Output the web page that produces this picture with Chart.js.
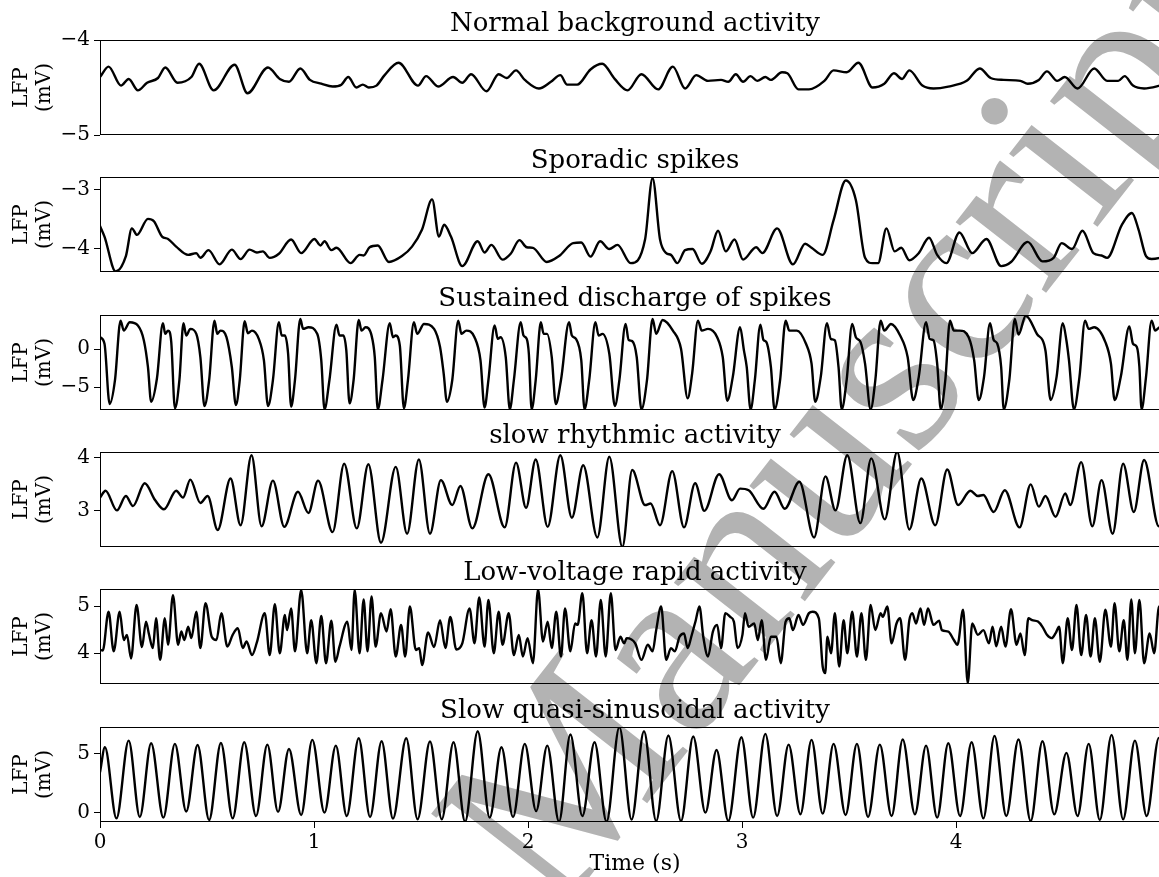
<!DOCTYPE html>
<html>
<head>
<meta charset="utf-8">
<script src="https://cdn.jsdelivr.net/npm/chart.js@4.4.1/dist/chart.umd.min.js"></script>
<style>
  body { margin: 0; width: 1159px; height: 877px; overflow: hidden; background: #fff; position: relative; }
  #mark { position: absolute; left: 840px; top: 420px; transform: translate(-50%, -50%) rotate(-52deg);
          font: 250px 'Liberation Serif', serif; color: #b3b3b3; white-space: nowrap; line-height: 1; }
  canvas { position: absolute; left: 0; }
</style>
</head>
<body>
<div id="mark">Manuscript</div>
<script>
// LFP traces, [time (s), value (mV)]
const normalTrace = [[0,-4.39],[0.04,-4.28],[0.098,-4.48],[0.134,-4.41],[0.177,-4.53],[0.22,-4.45],[0.271,-4.40],[0.305,-4.29],[0.362,-4.45],[0.427,-4.39],[0.463,-4.25],[0.531,-4.53],[0.629,-4.26],[0.689,-4.56],[0.785,-4.29],[0.84,-4.41],[0.883,-4.44],[0.936,-4.30],[0.981,-4.42],[1.034,-4.46],[1.087,-4.49],[1.128,-4.47],[1.16,-4.39],[1.198,-4.50],[1.228,-4.47],[1.256,-4.50],[1.292,-4.48],[1.33,-4.37],[1.395,-4.24],[1.486,-4.48],[1.524,-4.38],[1.58,-4.49],[1.65,-4.39],[1.693,-4.45],[1.734,-4.36],[1.806,-4.54],[1.863,-4.36],[1.9,-4.40],[1.944,-4.32],[1.985,-4.42],[2.051,-4.51],[2.107,-4.44],[2.151,-4.37],[2.183,-4.47],[2.23,-4.47],[2.292,-4.31],[2.347,-4.25],[2.405,-4.41],[2.465,-4.53],[2.53,-4.36],[2.608,-4.52],[2.677,-4.28],[2.734,-4.51],[2.786,-4.37],[2.841,-4.43],[2.902,-4.42],[2.936,-4.44],[2.971,-4.36],[3.005,-4.44],[3.04,-4.38],[3.071,-4.43],[3.109,-4.39],[3.135,-4.42],[3.187,-4.34],[3.212,-4.35],[3.264,-4.52],[3.313,-4.52],[3.385,-4.43],[3.428,-4.32],[3.489,-4.34],[3.544,-4.24],[3.61,-4.50],[3.665,-4.46],[3.71,-4.35],[3.748,-4.41],[3.782,-4.32],[3.843,-4.48],[3.895,-4.51],[3.964,-4.49],[4.05,-4.43],[4.111,-4.30],[4.162,-4.40],[4.223,-4.42],[4.301,-4.43],[4.335,-4.46],[4.387,-4.42],[4.425,-4.33],[4.473,-4.43],[4.508,-4.39],[4.568,-4.51],[4.646,-4.30],[4.706,-4.43],[4.758,-4.43],[4.788,-4.38],[4.827,-4.48],[4.879,-4.51],[4.953,-4.48],[5.0,-4.45]];

const spikeTrace = [[0,-3.61],[0.021,-3.79],[0.073,-4.38],[0.121,-4.12],[0.149,-3.65],[0.173,-3.76],[0.224,-3.49],[0.252,-3.53],[0.29,-3.79],[0.318,-3.83],[0.356,-3.96],[0.412,-4.10],[0.45,-4.07],[0.469,-4.15],[0.507,-4.02],[0.559,-4.26],[0.616,-4.01],[0.657,-4.17],[0.699,-4.01],[0.733,-4.06],[0.761,-4.04],[0.793,-4.15],[0.836,-4.08],[0.893,-3.84],[0.94,-4.07],[1.002,-3.83],[1.03,-3.94],[1.049,-3.87],[1.081,-4.02],[1.105,-3.98],[1.171,-4.24],[1.213,-4.10],[1.232,-4.11],[1.26,-3.97],[1.298,-3.94],[1.35,-4.22],[1.411,-4.12],[1.458,-3.96],[1.505,-3.67],[1.552,-3.16],[1.584,-3.79],[1.608,-3.59],[1.64,-3.79],[1.693,-4.29],[1.765,-3.87],[1.797,-4.06],[1.829,-3.93],[1.881,-4.18],[1.919,-4.08],[1.96,-3.85],[1.994,-3.97],[2.023,-3.98],[2.088,-4.22],[2.145,-4.12],[2.211,-3.90],[2.249,-3.89],[2.292,-4.13],[2.337,-3.87],[2.38,-4.00],[2.418,-3.93],[2.48,-4.24],[2.547,-3.84],[2.582,-2.80],[2.617,-3.84],[2.646,-4.07],[2.668,-4.10],[2.698,-4.24],[2.734,-4.02],[2.769,-4.00],[2.812,-4.25],[2.853,-4.04],[2.888,-3.69],[2.924,-4.04],[2.965,-3.84],[3.005,-4.18],[3.066,-3.97],[3.095,-4.07],[3.164,-3.65],[3.238,-4.26],[3.295,-3.91],[3.325,-3.98],[3.377,-4.10],[3.428,-3.51],[3.485,-2.84],[3.532,-3.17],[3.575,-4.15],[3.61,-4.24],[3.636,-4.24],[3.675,-3.65],[3.713,-4.04],[3.744,-3.98],[3.782,-4.19],[3.826,-4.07],[3.874,-3.81],[3.912,-4.10],[3.955,-4.24],[4.016,-3.72],[4.076,-4.07],[4.142,-3.83],[4.211,-4.29],[4.257,-4.22],[4.335,-3.88],[4.404,-4.21],[4.456,-4.15],[4.494,-3.90],[4.542,-4.00],[4.591,-3.69],[4.642,-4.07],[4.68,-4.11],[4.706,-4.15],[4.775,-3.59],[4.822,-3.39],[4.853,-3.67],[4.888,-4.12],[4.914,-4.17],[4.953,-4.15],[5.0,-4.10]];

const dischargeTrace = [[0,1.58],[0.021,0.71],[0.045,-7.21],[0.07,-4.08],[0.096,3.76],[0.111,2.45],[0.139,3.54],[0.177,3.11],[0.205,1.15],[0.224,-2.34],[0.239,-6.91],[0.266,-3.86],[0.294,3.41],[0.305,2.02],[0.318,2.45],[0.333,0.93],[0.35,-7.78],[0.371,-4.08],[0.39,3.41],[0.403,1.8],[0.422,2.67],[0.45,2.02],[0.469,-1.03],[0.488,-7.48],[0.51,-4.08],[0.535,3.76],[0.548,2.02],[0.563,2.45],[0.591,1.58],[0.616,-2.34],[0.635,-7.35],[0.653,-4.08],[0.676,3.67],[0.691,2.1],[0.71,2.45],[0.742,1.36],[0.766,-1.47],[0.785,-7.48],[0.808,-4.08],[0.836,3.54],[0.849,1.8],[0.864,1.8],[0.879,-0.6],[0.893,-7.56],[0.911,-4.08],[0.936,3.98],[0.949,2.67],[0.974,2.89],[1.015,2.02],[1.034,-1.47],[1.049,-7.91],[1.072,-4.08],[1.105,3.24],[1.119,1.8],[1.137,1.8],[1.151,-0.16],[1.166,-7.13],[1.185,-4.08],[1.209,3.85],[1.222,2.45],[1.241,2.89],[1.269,1.8],[1.284,-1.03],[1.298,-7.91],[1.32,-4.08],[1.354,3.41],[1.369,1.58],[1.382,1.8],[1.401,0.49],[1.42,-7.78],[1.439,-4.08],[1.467,3.54],[1.482,2.02],[1.514,3.32],[1.561,2.67],[1.589,0.28],[1.606,-3.21],[1.621,-6.91],[1.646,-4.08],[1.674,3.76],[1.689,2.02],[1.712,2.45],[1.75,1.58],[1.778,-1.47],[1.797,-7.69],[1.815,-4.08],[1.844,3.11],[1.859,1.36],[1.872,1.58],[1.896,-1.03],[1.915,-7.91],[1.934,-4.08],[1.966,3.54],[1.979,1.8],[1.994,1.36],[2.004,-0.6],[2.017,-7.91],[2.036,-4.08],[2.06,3.54],[2.073,2.02],[2.089,2.02],[2.111,-1.03],[2.13,-7.21],[2.154,-4.08],[2.192,3.54],[2.205,1.8],[2.224,1.36],[2.249,-1.47],[2.264,-7.91],[2.286,-4.08],[2.315,3.54],[2.33,1.8],[2.348,2.02],[2.38,-0.6],[2.406,-7.48],[2.427,-4.08],[2.456,3.32],[2.47,1.23],[2.487,1.06],[2.508,-1.03],[2.53,-7.91],[2.556,-4.08],[2.582,3.98],[2.599,2.02],[2.629,3.85],[2.677,2.45],[2.715,0.06],[2.746,-6.47],[2.767,-3.21],[2.794,3.76],[2.812,2.45],[2.841,2.67],[2.884,1.58],[2.91,-1.03],[2.931,-6.78],[2.957,-3.64],[2.991,2.89],[3.009,-0.16],[3.022,-2.34],[3.04,-7.91],[3.06,-4.08],[3.086,3.24],[3.1,1.23],[3.114,0.93],[3.135,-2.34],[3.152,-7.91],[3.178,-4.08],[3.204,3.76],[3.221,2.45],[3.256,2.45],[3.299,0.71],[3.325,-1.9],[3.342,-6.91],[3.368,-3.64],[3.397,3.41],[3.415,1.36],[3.434,1.15],[3.451,-2.34],[3.466,-7.91],[3.489,-4.08],[3.515,3.32],[3.532,1.58],[3.554,0.93],[3.575,-1.9],[3.601,-7.91],[3.623,-4.08],[3.648,3.76],[3.665,2.45],[3.696,3.32],[3.739,1.8],[3.774,-1.03],[3.8,-6.69],[3.826,-3.64],[3.86,3.54],[3.877,1.36],[3.895,1.15],[3.912,-1.9],[3.929,-7.91],[3.95,-4.08],[3.972,3.76],[3.99,2.45],[4.016,2.45],[4.059,1.58],[4.085,-1.47],[4.106,-6.69],[4.131,-3.64],[4.159,3.41],[4.176,1.23],[4.193,0.71],[4.211,-2.34],[4.223,-7.91],[4.249,-4.08],[4.275,3.98],[4.292,1.93],[4.326,4.41],[4.378,2.02],[4.418,-0.16],[4.442,-6.69],[4.47,-3.64],[4.499,3.41],[4.516,1.15],[4.528,-1.47],[4.551,-7.91],[4.577,-3.64],[4.603,3.76],[4.62,2.67],[4.646,2.89],[4.698,0.93],[4.724,-1.9],[4.741,-6.69],[4.77,-3.64],[4.81,2.98],[4.827,0.71],[4.845,0.28],[4.857,-2.34],[4.867,-7.91],[4.888,-3.64],[4.914,3.76],[4.931,2.45],[4.953,2.89],[5.0,1.2]];

const rhythmicTrace = [[0,3.25],[0.026,3.38],[0.079,3.01],[0.121,3.28],[0.154,3.09],[0.209,3.52],[0.258,3.2],[0.299,3.03],[0.356,3.38],[0.388,3.25],[0.422,3.59],[0.469,3.15],[0.503,3.28],[0.55,2.64],[0.61,3.61],[0.657,2.73],[0.708,4.05],[0.755,2.71],[0.808,3.57],[0.861,2.7],[0.925,3.36],[0.974,2.96],[1.019,3.57],[1.087,2.6],[1.141,3.89],[1.2,2.67],[1.254,3.88],[1.313,2.4],[1.382,3.83],[1.435,2.57],[1.49,3.97],[1.542,2.57],[1.593,3.58],[1.646,3.11],[1.684,3.47],[1.74,2.67],[1.815,3.69],[1.891,2.69],[1.944,3.91],[1.991,3.06],[2.036,3.97],[2.092,2.7],[2.151,4.05],[2.205,2.87],[2.258,3.86],[2.324,2.5],[2.38,4.02],[2.441,2.32],[2.487,3.77],[2.547,3.11],[2.573,3.14],[2.617,2.73],[2.674,3.75],[2.729,2.69],[2.781,3.52],[2.824,3.0],[2.893,3.69],[2.953,3.2],[2.991,3.42],[3.031,3.39],[3.1,3.04],[3.152,3.36],[3.2,3.04],[3.268,3.55],[3.337,2.5],[3.39,3.65],[3.437,3.01],[3.492,4.05],[3.553,2.77],[3.604,3.99],[3.667,2.84],[3.725,4.11],[3.782,2.65],[3.838,3.61],[3.903,2.73],[3.959,3.78],[4.01,3.11],[4.067,3.38],[4.102,3.28],[4.128,3.3],[4.176,2.98],[4.228,3.39],[4.297,2.69],[4.349,3.5],[4.387,3.08],[4.418,3.28],[4.465,2.89],[4.511,3.33],[4.534,3.11],[4.585,3.92],[4.637,2.71],[4.68,3.58],[4.732,2.57],[4.781,3.89],[4.831,2.98],[4.879,3.96],[4.948,2.71],[5.0,3.2]];

const rapidTrace = [[0,4.07],[0.013,4.06],[0.04,4.88],[0.064,4.04],[0.092,4.88],[0.111,4.28],[0.126,4.39],[0.145,3.89],[0.171,5.02],[0.196,4.13],[0.215,4.67],[0.228,4.42],[0.247,4.11],[0.262,4.74],[0.281,3.86],[0.303,4.74],[0.318,4.18],[0.341,5.23],[0.365,4.18],[0.38,4.46],[0.394,4.28],[0.412,4.56],[0.427,4.32],[0.45,4.88],[0.469,4.11],[0.493,5.06],[0.522,4.35],[0.544,4.28],[0.567,4.85],[0.595,4.14],[0.62,4.39],[0.644,4.53],[0.667,4.11],[0.685,4.25],[0.71,3.96],[0.733,4.23],[0.77,4.85],[0.793,3.96],[0.817,5.04],[0.84,4.0],[0.864,4.81],[0.874,4.49],[0.893,4.95],[0.911,4.04],[0.94,5.34],[0.968,4.0],[0.987,4.7],[1.011,3.79],[1.034,4.79],[1.056,3.79],[1.081,4.69],[1.1,3.82],[1.119,4.14],[1.156,4.67],[1.175,4.07],[1.19,5.34],[1.213,4.0],[1.232,5.14],[1.25,4.04],[1.269,5.2],[1.288,4.14],[1.313,4.85],[1.339,4.46],[1.358,4.93],[1.382,3.93],[1.407,4.6],[1.426,3.93],[1.448,4.99],[1.476,4.07],[1.492,4.11],[1.505,3.75],[1.533,4.44],[1.561,4.13],[1.589,4.7],[1.614,4.11],[1.637,4.77],[1.665,4.08],[1.693,4.21],[1.727,4.95],[1.75,4.21],[1.772,5.18],[1.797,4.14],[1.815,5.13],[1.84,4.0],[1.863,4.88],[1.881,4.18],[1.91,4.85],[1.934,3.96],[1.957,4.39],[1.976,3.93],[1.998,4.32],[2.023,3.79],[2.047,5.35],[2.07,4.25],[2.092,4.67],[2.111,4.11],[2.132,4.88],[2.154,3.93],[2.173,4.95],[2.198,4.04],[2.22,4.63],[2.232,4.6],[2.254,5.27],[2.276,4.0],[2.297,4.7],[2.318,3.93],[2.34,5.13],[2.363,3.93],[2.387,5.27],[2.409,4.07],[2.432,4.35],[2.449,4.21],[2.461,4.32],[2.501,4.21],[2.53,3.86],[2.56,4.18],[2.582,4.04],[2.599,4.49],[2.622,4.99],[2.646,3.86],[2.668,4.11],[2.686,4.04],[2.708,4.35],[2.729,4.42],[2.746,4.11],[2.763,4.35],[2.784,4.7],[2.801,4.99],[2.819,4.35],[2.841,3.93],[2.864,4.46],[2.884,4.6],[2.902,4.11],[2.922,4.85],[2.945,4.77],[2.962,4.67],[2.979,4.11],[3.002,4.39],[3.014,4.85],[3.031,4.56],[3.057,4.63],[3.074,4.28],[3.092,4.7],[3.112,3.86],[3.135,4.35],[3.161,4.35],[3.181,3.79],[3.204,4.67],[3.221,4.74],[3.238,4.49],[3.264,4.81],[3.285,4.6],[3.313,4.85],[3.33,4.88],[3.359,4.74],[3.377,3.72],[3.389,3.58],[3.399,4.35],[3.416,4.0],[3.434,4.85],[3.454,3.72],[3.475,4.7],[3.492,4.0],[3.515,4.88],[3.537,3.93],[3.558,4.85],[3.579,3.86],[3.601,5.02],[3.623,4.49],[3.648,4.85],[3.658,4.77],[3.679,4.99],[3.699,4.21],[3.722,4.63],[3.739,4.74],[3.762,3.86],[3.782,4.7],[3.796,4.85],[3.813,4.63],[3.834,4.95],[3.851,4.6],[3.869,4.95],[3.895,4.6],[3.921,4.69],[3.934,4.49],[3.964,4.46],[3.99,4.28],[4.007,4.18],[4.033,4.92],[4.055,3.37],[4.076,4.63],[4.102,4.39],[4.128,4.49],[4.154,4.21],[4.171,4.56],[4.188,4.15],[4.211,4.56],[4.231,4.14],[4.257,4.93],[4.283,4.18],[4.301,4.42],[4.321,3.96],[4.338,4.74],[4.356,4.7],[4.383,4.67],[4.404,4.56],[4.425,4.39],[4.447,4.32],[4.465,4.42],[4.482,4.56],[4.499,3.79],[4.522,4.74],[4.542,4.07],[4.563,5.02],[4.585,3.96],[4.608,4.81],[4.629,3.93],[4.649,4.74],[4.672,3.82],[4.698,4.92],[4.724,4.14],[4.741,5.06],[4.763,4.04],[4.784,4.7],[4.801,3.86],[4.819,5.14],[4.836,4.0],[4.857,5.13],[4.879,3.79],[4.905,4.42],[4.926,4.0],[4.949,4.99],[5.0,4.2]];

const sinusTrace = [[0,3.43],[0.023,5.57],[0.077,-0.49],[0.134,6.14],[0.186,-0.37],[0.239,5.91],[0.296,-0.43],[0.35,5.86],[0.403,0.09],[0.456,5.77],[0.51,-0.63],[0.565,5.94],[0.62,-0.49],[0.674,6.0],[0.729,-0.29],[0.782,5.8],[0.832,0.06],[0.883,5.43],[0.94,-0.2],[0.992,6.2],[1.049,0.0],[1.102,5.71],[1.153,-0.29],[1.209,6.34],[1.262,-0.37],[1.316,6.09],[1.369,-0.51],[1.431,6.34],[1.484,-0.57],[1.542,6.06],[1.597,-0.57],[1.652,6.0],[1.706,-0.77],[1.765,6.94],[1.821,-0.43],[1.876,5.57],[1.93,-0.37],[1.985,5.86],[2.038,0.14],[2.09,5.71],[2.145,-0.77],[2.198,6.66],[2.254,-0.29],[2.311,6.0],[2.367,-0.77],[2.427,7.29],[2.484,-0.6],[2.542,6.94],[2.599,-0.71],[2.656,6.57],[2.715,-0.71],[2.772,6.49],[2.829,0.0],[2.881,5.34],[2.936,-0.71],[2.997,6.43],[3.052,-0.43],[3.109,6.71],[3.164,-0.29],[3.218,5.8],[3.273,-0.14],[3.325,6.2],[3.377,-0.09],[3.428,5.86],[3.484,-0.2],[3.537,5.86],[3.589,-0.37],[3.644,5.8],[3.699,-0.29],[3.751,6.23],[3.808,-0.14],[3.86,5.71],[3.912,-0.43],[3.964,5.91],[4.019,-0.29],[4.073,6.0],[4.128,-0.49],[4.18,6.54],[4.235,-0.29],[4.292,6.23],[4.349,-0.71],[4.404,6.09],[4.459,-0.14],[4.516,5.09],[4.568,-0.29],[4.62,5.86],[4.672,-0.63],[4.727,6.63],[4.781,-0.57],[4.836,6.14],[4.891,-0.29],[4.948,6.37],[5.0,-0.2]];

const panelTitles = ['Normal background activity', 'Sporadic spikes', 'Sustained discharge of spikes',
  'slow rhythmic activity', 'Low-voltage rapid activity', 'Slow quasi-sinusoidal activity'];
const yLimits = [[-5, -4], [-4.39, -2.78], [-8.0, 4.5], [2.32, 4.11], [3.35, 5.36], [-0.8, 7.3]];
const yTickValues = [[-5, -4], [-4, -3], [-5, 0], [3, 4], [4, 5], [0, 5]];
const timeTicks = [0, 1, 2, 3, 4];
const traces = [normalTrace, spikeTrace, dischargeTrace, rhythmicTrace, rapidTrace, sinusTrace];

// layout
const axesTops = [40, 177, 315, 452, 589, 727];
const HEAD = 45, AXH = 95, FOOT = 16, PADTOP = 13.4;
const SERIF = "'DejaVu Serif', serif";

// matplotlib style box around each axes
const frame = {
  id: 'frame',
  afterDatasetsDraw(chart) {
    const a = chart.chartArea, c = chart.ctx;
    c.save();
    c.strokeStyle = '#000';
    c.lineWidth = 1;
    c.strokeRect(Math.round(a.left) + 0.5, Math.round(a.top) + 0.5, a.right - a.left, Math.round(a.bottom - a.top) - 1);
    c.restore();
  }
};

const minus = v => String(v).replace('-', '\u2212');

traces.forEach((trace, i) => {
  const last = i === traces.length - 1;
  const canvas = document.createElement('canvas');
  canvas.width = 1170;
  canvas.height = HEAD + AXH + (last ? 55 : FOOT);
  canvas.style.top = (axesTops[i] - HEAD) + 'px';
  document.body.appendChild(canvas);

  new Chart(canvas.getContext('2d'), {
    type: 'line',
    data: {
      datasets: [{
        data: trace.map(p => ({x: p[0], y: p[1]})),
        borderColor: '#000',
        borderWidth: 2.4,
        pointRadius: 0,
        cubicInterpolationMode: 'monotone',
        fill: false
      }]
    },
    options: {
      responsive: false,
      animation: false,
      events: [],
      layout: {padding: {top: PADTOP, left: 0, right: 0, bottom: last ? 0 : FOOT}},
      plugins: {legend: {display: false}, tooltip: {enabled: false}},
      scales: {
        x: {
          type: 'linear',
          min: 0,
          max: 5,
          afterFit: s => { s.height = last ? 55 : 0 },
          afterBuildTicks: s => { s.ticks = timeTicks.map(v => ({value: v})) },
          border: {display: false},
          grid: {display: last, drawOnChartArea: false, tickLength: 6, color: '#000'},
          ticks: {display: last, color: '#000', padding: 3, maxRotation: 0, autoSkip: false,
                  font: {family: SERIF, size: 20}},
          title: {display: last, text: 'Time (s)', color: '#000', padding: 0,
                  font: {family: SERIF, size: 22}}
        },
        // top axis only carries the panel title, centred over the plot area
        top: {
          type: 'linear',
          axis: 'x',
          position: 'top',
          min: 0,
          max: 5,
          afterFit: s => { s.height = HEAD - PADTOP },
          border: {display: false},
          grid: {display: false},
          ticks: {display: false},
          title: {display: true, text: panelTitles[i], color: '#000', padding: 0,
                  font: {family: SERIF, size: 26}}
        },
        y: {
          min: yLimits[i][0],
          max: yLimits[i][1],
          afterFit: s => { s.width = 100 },
          afterBuildTicks: s => { s.ticks = yTickValues[i].map(v => ({value: v})) },
          border: {display: false},
          grid: {drawOnChartArea: false, tickLength: 6, color: '#000'},
          ticks: {color: '#000', padding: 4, callback: v => minus(v),
                  font: {family: SERIF, size: 20}},
          title: {display: true, text: ['LFP', '(mV)'], color: '#000', padding: {top: 10, bottom: 0},
                  font: {family: SERIF, size: 20, lineHeight: 1.15}}
        }
      }
    },
    plugins: [frame]
  });
});
</script>
</body>
</html>
